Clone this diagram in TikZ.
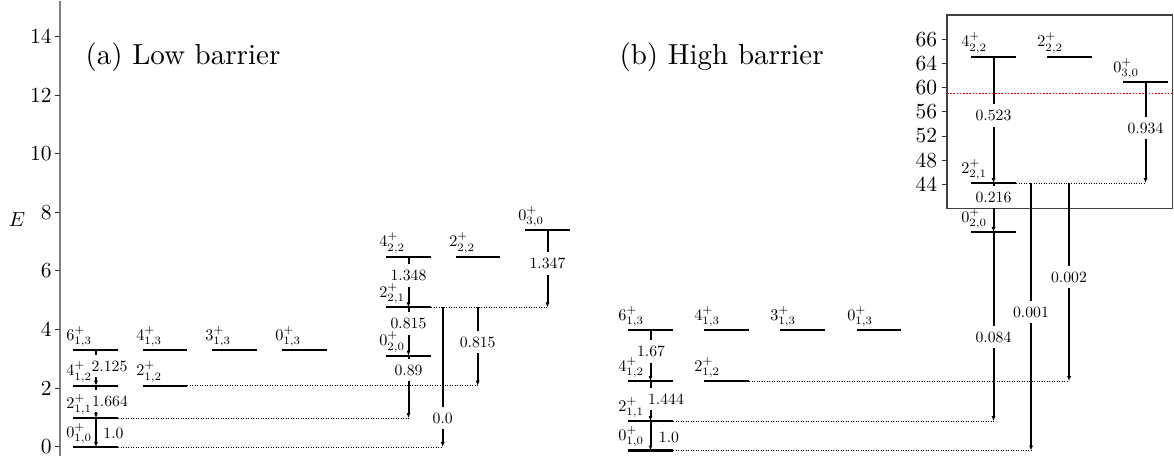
\documentclass[tikz,border=0pt]{standalone}
\usetikzlibrary{arrows.meta,calc}
\newcommand{\levline}[4]{%
  \coordinate (#1l) at (#2,#4);
  \coordinate (#1r) at (#3,#4);
  \draw[levelline] (#1l) -- (#1r);
}
\newcommand{\levtext}[3]{%
  \node[lvllab] (#1t) at ($(#1l)+(-#3,-10)$) {$#2$};
}
\newcommand{\tra}[7]{%
  \coordinate (#1a) at (#2,#3);
  \coordinate (#1b) at (#2,#4);
  \draw[transline] (#1a) -- (#1b);
  \node[translab] (#1n) at (#6,#7) {#5};
}
\definecolor{redlinecol}{RGB}{230,0,0}
\begin{document}
\begin{tikzpicture}[x=1pt,y=-1pt,
  levelline/.style={line width=2.1pt},
  lvllab/.style={anchor=base west, inner sep=0pt, scale=1.62},
  dotline/.style={line width=1pt, dash pattern=on 1pt off 1.5pt},
  transline/.style={line width=2pt, -{Latex[length=5pt,width=4.2pt]}},
  translab/.style={fill=white, inner xsep=3.2pt, inner ysep=3.8pt, scale=1.57},
  ticklab/.style={anchor=east, inner sep=0pt, scale=2.15},
  tickmark/.style={line width=1pt, black!80},
  spine/.style={line width=1.4pt, black!50},
  insetframe/.style={line width=1.1pt, black!75},
  redline/.style={line width=1.6pt, redlinecol, dash pattern=on 1.6pt off 1.6pt},
  titlelab/.style={anchor=base west, inner sep=0pt, scale=2.9}]
\useasboundingbox (0,0) rectangle (1174,460);
% main axis
\coordinate (spt) at (60,1);
\coordinate (spb) at (60,456);
\draw[spine] (spt) -- (spb);
\foreach \v/\yy in {0/446.6,2/388,4/329.4,6/270.8,8/212.2,10/153.6,12/95,14/36.4}{
  \draw[tickmark] (55,\yy) -- (60,\yy);
  \node[ticklab] (yt\v) at (52,\yy) {\v};
}
\node[anchor=base, inner sep=0pt, scale=2.05] (elab) at (17,226) {$E$};
% titles
\node[titlelab] (ta) at (85,64.5) {(a) Low barrier};
\node[titlelab] (tb) at (619,64.5) {(b) High barrier};
% left levels
\levline{a10}{73}{118}{447}
\levline{a11}{73}{118}{418}
\levline{a12}{73}{118}{385.7}
\levline{a13}{73}{118}{350}
\levline{b12}{143}{187}{385.7}
\levline{b13}{143}{187}{350}
\levline{c13}{212}{257}{350}
\levline{d13}{282}{327}{350}
\levline{e20}{386}{431}{355.7}
\levline{e21}{386}{431}{307.3}
\levline{e22}{386}{431}{256.7}
\levline{f22}{456}{500}{256.7}
\levline{g30}{525}{570}{230}
% right levels
\levline{ra10}{628}{673}{450.5}
\levline{ra11}{628}{673}{421}
\levline{ra12}{628}{673}{381}
\levline{ra13}{628}{673}{330}
\levline{rb12}{704}{749}{381}
\levline{rb13}{704}{749}{330}
\levline{rc13}{780}{825}{330}
\levline{rd13}{857}{901}{330}
\levline{re20}{971}{1016}{232}
\levtext{re20}{0^+_{2,0}}{10}
% inset
\coordinate (insw) at (947,208.5);
\coordinate (inne) at (1172.5,15);
\draw[insetframe, fill=white] (insw) rectangle (inne);
\coordinate (rl1) at (947,93.3);
\coordinate (rl2) at (1172.5,93.3);
\draw[redline] (rl1) -- (rl2);
\foreach \v/\yy in {66/39.3,64/63.3,60/87.3,56/111.7,52/136,48/160.3,44/184}{
  \draw[tickmark] (942,\yy) -- (947,\yy);
  \node[ticklab] (it\v) at (937.5,\yy) {\v};
}
\levline{re21}{971}{1016}{183}
\levline{re22}{971}{1016}{56.7}
\levline{rf22}{1047}{1092}{56.7}
\levline{rg30}{1123}{1168}{82}
% left transitions
\tra{A1}{96}{350}{385.7}{2.125}{109.5}{366}
\tra{A2}{96}{385.7}{418}{1.664}{110}{401}
\tra{A3}{96}{418}{447}{1.0}{113.5}{433}
\tra{A4}{408.5}{256.7}{307.3}{1.348}{408.5}{275.3}
\tra{A5}{408.5}{307.3}{355.7}{0.815}{408.5}{323.5}
\tra{A6}{408.5}{355.7}{418}{0.89}{408.5}{370}
\tra{A7}{442.7}{307.3}{447}{0.0}{442.7}{418}
\tra{A8}{477.7}{307.3}{385.7}{0.815}{477.7}{342}
\tra{A9}{547.5}{230}{307.3}{1.347}{547.5}{263.7}
\draw[dotline] (a11r) -- (A6b);
\draw[dotline] (a10r) -- (A7b);
\draw[dotline] (b12r) -- (A8b);
\draw[dotline] (e21r) -- (A9b);
% right transitions
\tra{B1}{650.5}{330}{381}{1.67}{651}{351.7}
\tra{B2}{650.5}{381}{421}{1.444}{666}{399}
\tra{B3}{650.5}{421}{450.5}{1.0}{669}{437}
\tra{B4}{993.5}{56.7}{183}{0.523}{993.5}{115.3}
\tra{B5}{1145.5}{82}{183}{0.934}{1145.5}{128}
\tra{B6}{993.5}{183}{232}{0.216}{993.5}{197}
\tra{B7}{993.5}{232}{421}{0.084}{993.5}{337}
\tra{B8}{1031}{183}{450.5}{0.001}{1031}{312}
\tra{B9}{1069}{183}{381}{0.002}{1069}{277}
\draw[dotline] (ra11r) -- (B7b);
\draw[dotline] (ra10r) -- (B8b);
\draw[dotline] (rb12r) -- (B9b);
\draw[dotline] (re21r) -- (B5b);
% level labels (on top)
\levtext{a10}{0^+_{1,0}}{7}
\levtext{a11}{2^+_{1,1}}{7}
\levtext{a12}{4^+_{1,2}}{7}
\levtext{a13}{6^+_{1,3}}{7}
\levtext{b12}{2^+_{1,2}}{7}
\levtext{b13}{4^+_{1,3}}{7}
\levtext{c13}{3^+_{1,3}}{7}
\levtext{d13}{0^+_{1,3}}{7}
\levtext{e20}{0^+_{2,0}}{7}
\levtext{e21}{2^+_{2,1}}{7}
\levtext{e22}{4^+_{2,2}}{7}
\levtext{f22}{2^+_{2,2}}{7}
\levtext{g30}{0^+_{3,0}}{7}
\levtext{ra10}{0^+_{1,0}}{10}
\levtext{ra11}{2^+_{1,1}}{10}
\levtext{ra12}{4^+_{1,2}}{10}
\levtext{ra13}{6^+_{1,3}}{10}
\levtext{rb12}{2^+_{1,2}}{10}
\levtext{rb13}{4^+_{1,3}}{10}
\levtext{rc13}{3^+_{1,3}}{10}
\levtext{rd13}{0^+_{1,3}}{10}
\levtext{re21}{2^+_{2,1}}{10}
\levtext{re22}{4^+_{2,2}}{10}
\levtext{rf22}{2^+_{2,2}}{10}
\levtext{rg30}{0^+_{3,0}}{10}
\end{tikzpicture}
\end{document}
